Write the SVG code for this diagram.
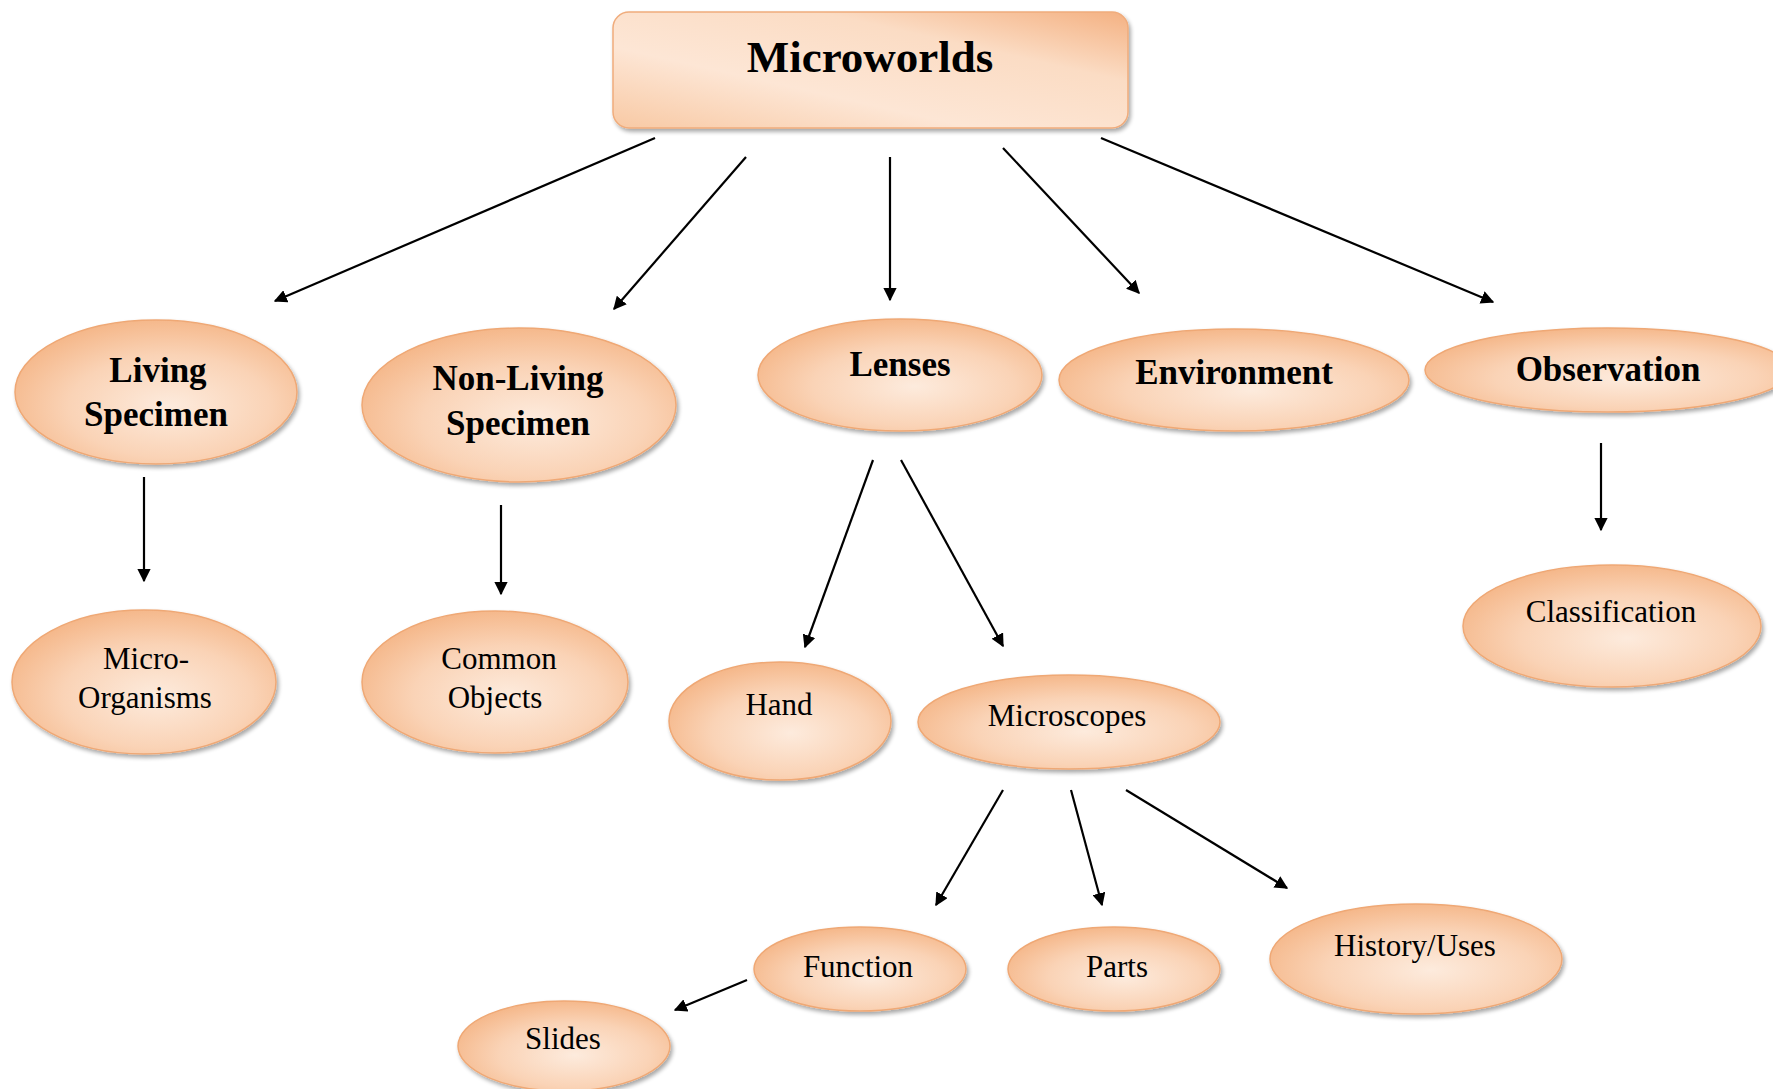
<svg xmlns="http://www.w3.org/2000/svg" width="1773" height="1089" viewBox="0 0 1773 1089">
  <defs>
    <radialGradient id="peach" cx="0.55" cy="0.6" r="0.65">
      <stop offset="0" stop-color="#FDEBDD"/>
      <stop offset="0.55" stop-color="#FAD3B6"/>
      <stop offset="1" stop-color="#F4B383"/>
    </radialGradient>
    <linearGradient id="rootFill" x1="0" y1="1" x2="1" y2="0">
      <stop offset="0" stop-color="#F8C9A4"/>
      <stop offset="0.35" stop-color="#FDE6D5"/>
      <stop offset="0.7" stop-color="#FBDCC4"/>
      <stop offset="1" stop-color="#F4B182"/>
    </linearGradient>
    <filter id="shadow" x="-10%" y="-10%" width="125%" height="130%">
      <feGaussianBlur in="SourceAlpha" stdDeviation="2"/>
      <feOffset dx="2" dy="3" result="b"/>
      <feComponentTransfer><feFuncA type="linear" slope="0.35"/></feComponentTransfer>
      <feMerge><feMergeNode/><feMergeNode in="SourceGraphic"/></feMerge>
    </filter>
    <marker id="arrow" viewBox="0 0 10 10" refX="9" refY="5" markerWidth="6" markerHeight="6" markerUnits="strokeWidth" orient="auto">
      <path d="M0,0 L10,5 L0,10 z" fill="#000"/>
    </marker>
  </defs>
  <style>
    .node { fill: url(#peach); stroke: #EFA875; stroke-width: 1.5; filter: url(#shadow); }
    .root { fill: url(#rootFill); stroke: #F0AC7C; stroke-width: 1.5; filter: url(#shadow); }
    .t0 { font-family: "Liberation Serif", "DejaVu Serif", serif; font-weight: bold; font-size: 45px; fill: #000; text-anchor: middle; dominant-baseline: central; }
    .t1 { font-family: "Liberation Serif", "DejaVu Serif", serif; font-weight: bold; font-size: 35px; fill: #000; text-anchor: middle; dominant-baseline: central; }
    .t2 { font-family: "Liberation Serif", "DejaVu Serif", serif; font-size: 31px; fill: #000; text-anchor: middle; dominant-baseline: central; }
    .edge { stroke: #000; stroke-width: 2.2; fill: none; marker-end: url(#arrow); }
  </style>

  <rect width="1773" height="1089" fill="#fff"/>

  <!-- connectors -->
  <g id="connectors">
    <line class="edge" x1="655" y1="138" x2="275" y2="301"/>
    <line class="edge" x1="746" y1="157" x2="614" y2="309"/>
    <line class="edge" x1="890" y1="157" x2="890" y2="300"/>
    <line class="edge" x1="1003" y1="148" x2="1139" y2="293"/>
    <line class="edge" x1="1101" y1="138" x2="1493" y2="302"/>
    <line class="edge" x1="144" y1="477" x2="144" y2="581"/>
    <line class="edge" x1="501" y1="505" x2="501" y2="594"/>
    <line class="edge" x1="873" y1="460" x2="805" y2="647"/>
    <line class="edge" x1="901" y1="460" x2="1003" y2="646"/>
    <line class="edge" x1="1601" y1="443" x2="1601" y2="530"/>
    <line class="edge" x1="1003" y1="790" x2="936" y2="905"/>
    <line class="edge" x1="1071" y1="790" x2="1102" y2="905"/>
    <line class="edge" x1="1126" y1="790" x2="1287" y2="888"/>
    <line class="edge" x1="747" y1="980" x2="675" y2="1010"/>
  </g>

  <!-- root -->
  <g id="microworlds">
    <rect class="root" x="613" y="12" width="515" height="116" rx="16"/>
    <text class="t0" x="870" y="57">Microworlds</text>
  </g>

  <!-- first level -->
  <g id="living-specimen">
    <ellipse class="node" cx="156" cy="392" rx="141" ry="72"/>
    <text class="t1" x="158" y="370">Living</text>
    <text class="t1" x="156" y="414">Specimen</text>
  </g>
  <g id="non-living-specimen">
    <ellipse class="node" cx="519" cy="405" rx="157" ry="77"/>
    <text class="t1" x="518" y="378">Non-Living</text>
    <text class="t1" x="518" y="423">Specimen</text>
  </g>
  <g id="lenses">
    <ellipse class="node" cx="900" cy="375" rx="142" ry="56"/>
    <text class="t1" x="900" y="364">Lenses</text>
  </g>
  <g id="environment">
    <ellipse class="node" cx="1234" cy="380" rx="175" ry="51"/>
    <text class="t1" x="1234" y="372">Environment</text>
  </g>
  <g id="observation">
    <ellipse class="node" cx="1608" cy="370" rx="183" ry="42"/>
    <text class="t1" x="1608" y="369">Observation</text>
  </g>

  <!-- second level -->
  <g id="micro-organisms">
    <ellipse class="node" cx="144" cy="682" rx="132" ry="72"/>
    <text class="t2" x="146" y="658">Micro-</text>
    <text class="t2" x="145" y="697">Organisms</text>
  </g>
  <g id="common-objects">
    <ellipse class="node" cx="495" cy="682" rx="133" ry="71"/>
    <text class="t2" x="499" y="658">Common</text>
    <text class="t2" x="495" y="697">Objects</text>
  </g>
  <g id="hand">
    <ellipse class="node" cx="780" cy="721" rx="111" ry="59"/>
    <text class="t2" x="779" y="704">Hand</text>
  </g>
  <g id="microscopes">
    <ellipse class="node" cx="1069" cy="722" rx="151" ry="47"/>
    <text class="t2" x="1067" y="715">Microscopes</text>
  </g>
  <g id="classification">
    <ellipse class="node" cx="1612" cy="626" rx="149" ry="61"/>
    <text class="t2" x="1611" y="611">Classification</text>
  </g>

  <!-- third level -->
  <g id="function">
    <ellipse class="node" cx="860" cy="969" rx="106" ry="42"/>
    <text class="t2" x="858" y="966">Function</text>
  </g>
  <g id="parts">
    <ellipse class="node" cx="1114" cy="969" rx="106" ry="42"/>
    <text class="t2" x="1117" y="966">Parts</text>
  </g>
  <g id="history-uses">
    <ellipse class="node" cx="1416" cy="959" rx="146" ry="55"/>
    <text class="t2" x="1415" y="945">History/Uses</text>
  </g>
  <g id="slides">
    <ellipse class="node" cx="564" cy="1046" rx="106" ry="45"/>
    <text class="t2" x="563" y="1038">Slides</text>
  </g>
</svg>
